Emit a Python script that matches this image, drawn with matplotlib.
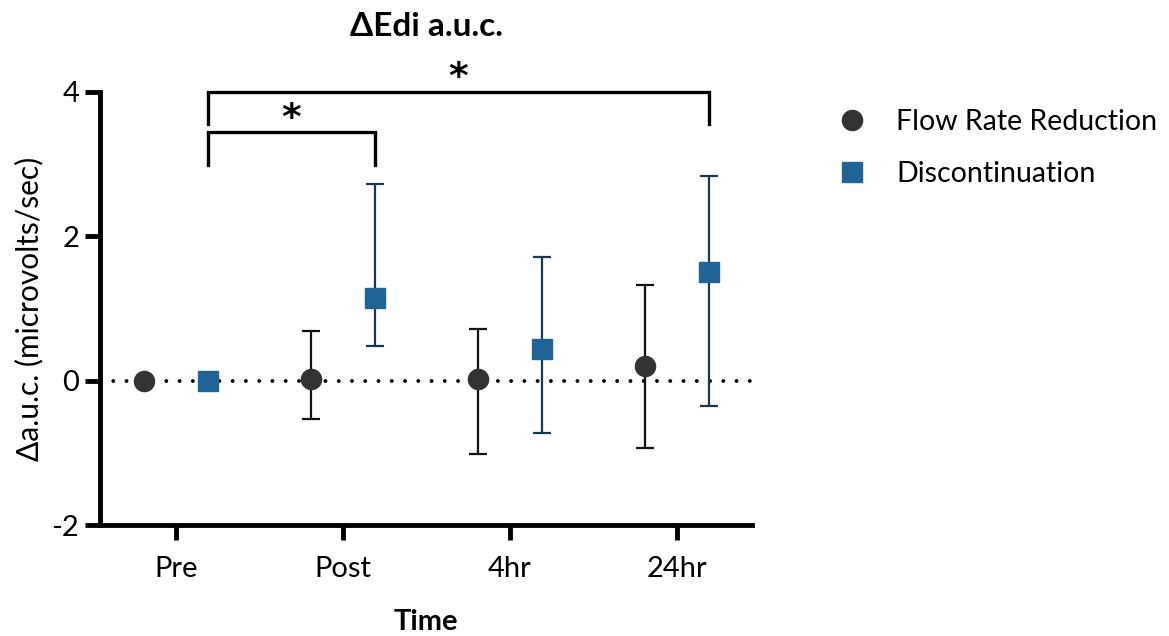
import numpy as np
import matplotlib
matplotlib.use("Agg")
import matplotlib.pyplot as plt
from matplotlib.lines import Line2D

plt.rcParams['font.family'] = ['Lato', 'DejaVu Sans']

categories = ["Pre", "Post", "4hr", "24hr"]

# Flow Rate Reduction (mean, lower whisker, upper whisker)
flow_mean = [0.0, 0.02, 0.02, 0.20]
flow_low = [0.0, -0.53, -1.02, -0.93]
flow_high = [0.0, 0.69, 0.72, 1.33]

# Discontinuation
disc_mean = [0.0, 1.15, 0.44, 1.50]
disc_low = [0.0, 0.475, -0.73, -0.35]
disc_high = [0.0, 2.72, 1.72, 2.83]

# significance brackets: (from category, to category, label)
brackets = [(0, 1, "*"), (0, 3, "*")]

circle_col = "#333333"
square_col = "#1f6494"
square_err = "#17384d"
offset = 0.19

fig = plt.figure(figsize=(11.69, 6.36), dpi=100)
ax = fig.add_axes([100 / 1169, 1 - 525 / 636, 652 / 1169, 433 / 636])

x = np.arange(len(categories))
fm = np.array(flow_mean)
dm = np.array(disc_mean)

ax.axhline(0, color="black", lw=2.8, linestyle=(0, (0.01, 3.4)),
           dash_capstyle="round", zorder=1)

ax.errorbar(x - offset, fm, yerr=[fm - np.array(flow_low), np.array(flow_high) - fm],
            fmt="o", color=circle_col, ecolor="#111111", elinewidth=1.6,
            capsize=6.5, capthick=1.6, markersize=14.5, zorder=3)
ax.errorbar(x + offset, dm, yerr=[dm - np.array(disc_low), np.array(disc_high) - dm],
            fmt="s", color=square_col, ecolor=square_err, elinewidth=1.6,
            capsize=6.5, capthick=1.6, markersize=14, zorder=3)

# brackets between Discontinuation points
levels = [(3.44, 2.99, 3.63), (4.0, 3.55, 4.19)]
for (a, b, lab), (top, leg, star_y) in zip(brackets, levels):
    xa, xb = a + offset, b + offset
    ax.plot([xa, xa, xb, xb], [leg, top, top, leg], color="black", lw=2.4,
            solid_joinstyle="miter", clip_on=False, zorder=4)
    ax.text((xa + xb) / 2, star_y, lab, ha="center", va="center",
            fontsize=27, fontweight="bold", family="DejaVu Sans")

ax.set_xlim(-0.455, 3.45)
ax.set_ylim(-2, 4)
ax.set_xticks(x)
ax.set_xticklabels(categories)
ax.set_yticks([-2, 0, 2, 4])
ax.set_yticklabels(["-2", "0", "2", "4"])

for side in ["top", "right"]:
    ax.spines[side].set_visible(False)
for side in ["left", "bottom"]:
    ax.spines[side].set_linewidth(3.5)
ax.tick_params(axis="both", width=3.5, length=11, labelsize=21)
ax.tick_params(axis="x", pad=11)
ax.tick_params(axis="y", pad=4)

ax.set_title("ΔEdi a.u.c.", fontsize=24, fontweight="bold", pad=40)
ax.set_xlabel("Time", fontsize=21, fontweight="bold", labelpad=20)
ax.set_ylabel("Δa.u.c. (microvolts/sec)", fontsize=21.5, labelpad=6)

handles = [
    Line2D([], [], marker="o", color=circle_col, linestyle="none", markersize=14.5),
    Line2D([], [], marker="s", color=square_col, linestyle="none", markersize=14),
]
fig.legend(handles, ["Flow Rate Reduction", "Discontinuation"],
           loc="upper left", bbox_to_anchor=(812 / 1169, 1 - 98 / 636),
           frameon=False, fontsize=20.5, labelspacing=0.9, handletextpad=0.55,
           borderaxespad=0)

fig.savefig("out.png", dpi=100)
